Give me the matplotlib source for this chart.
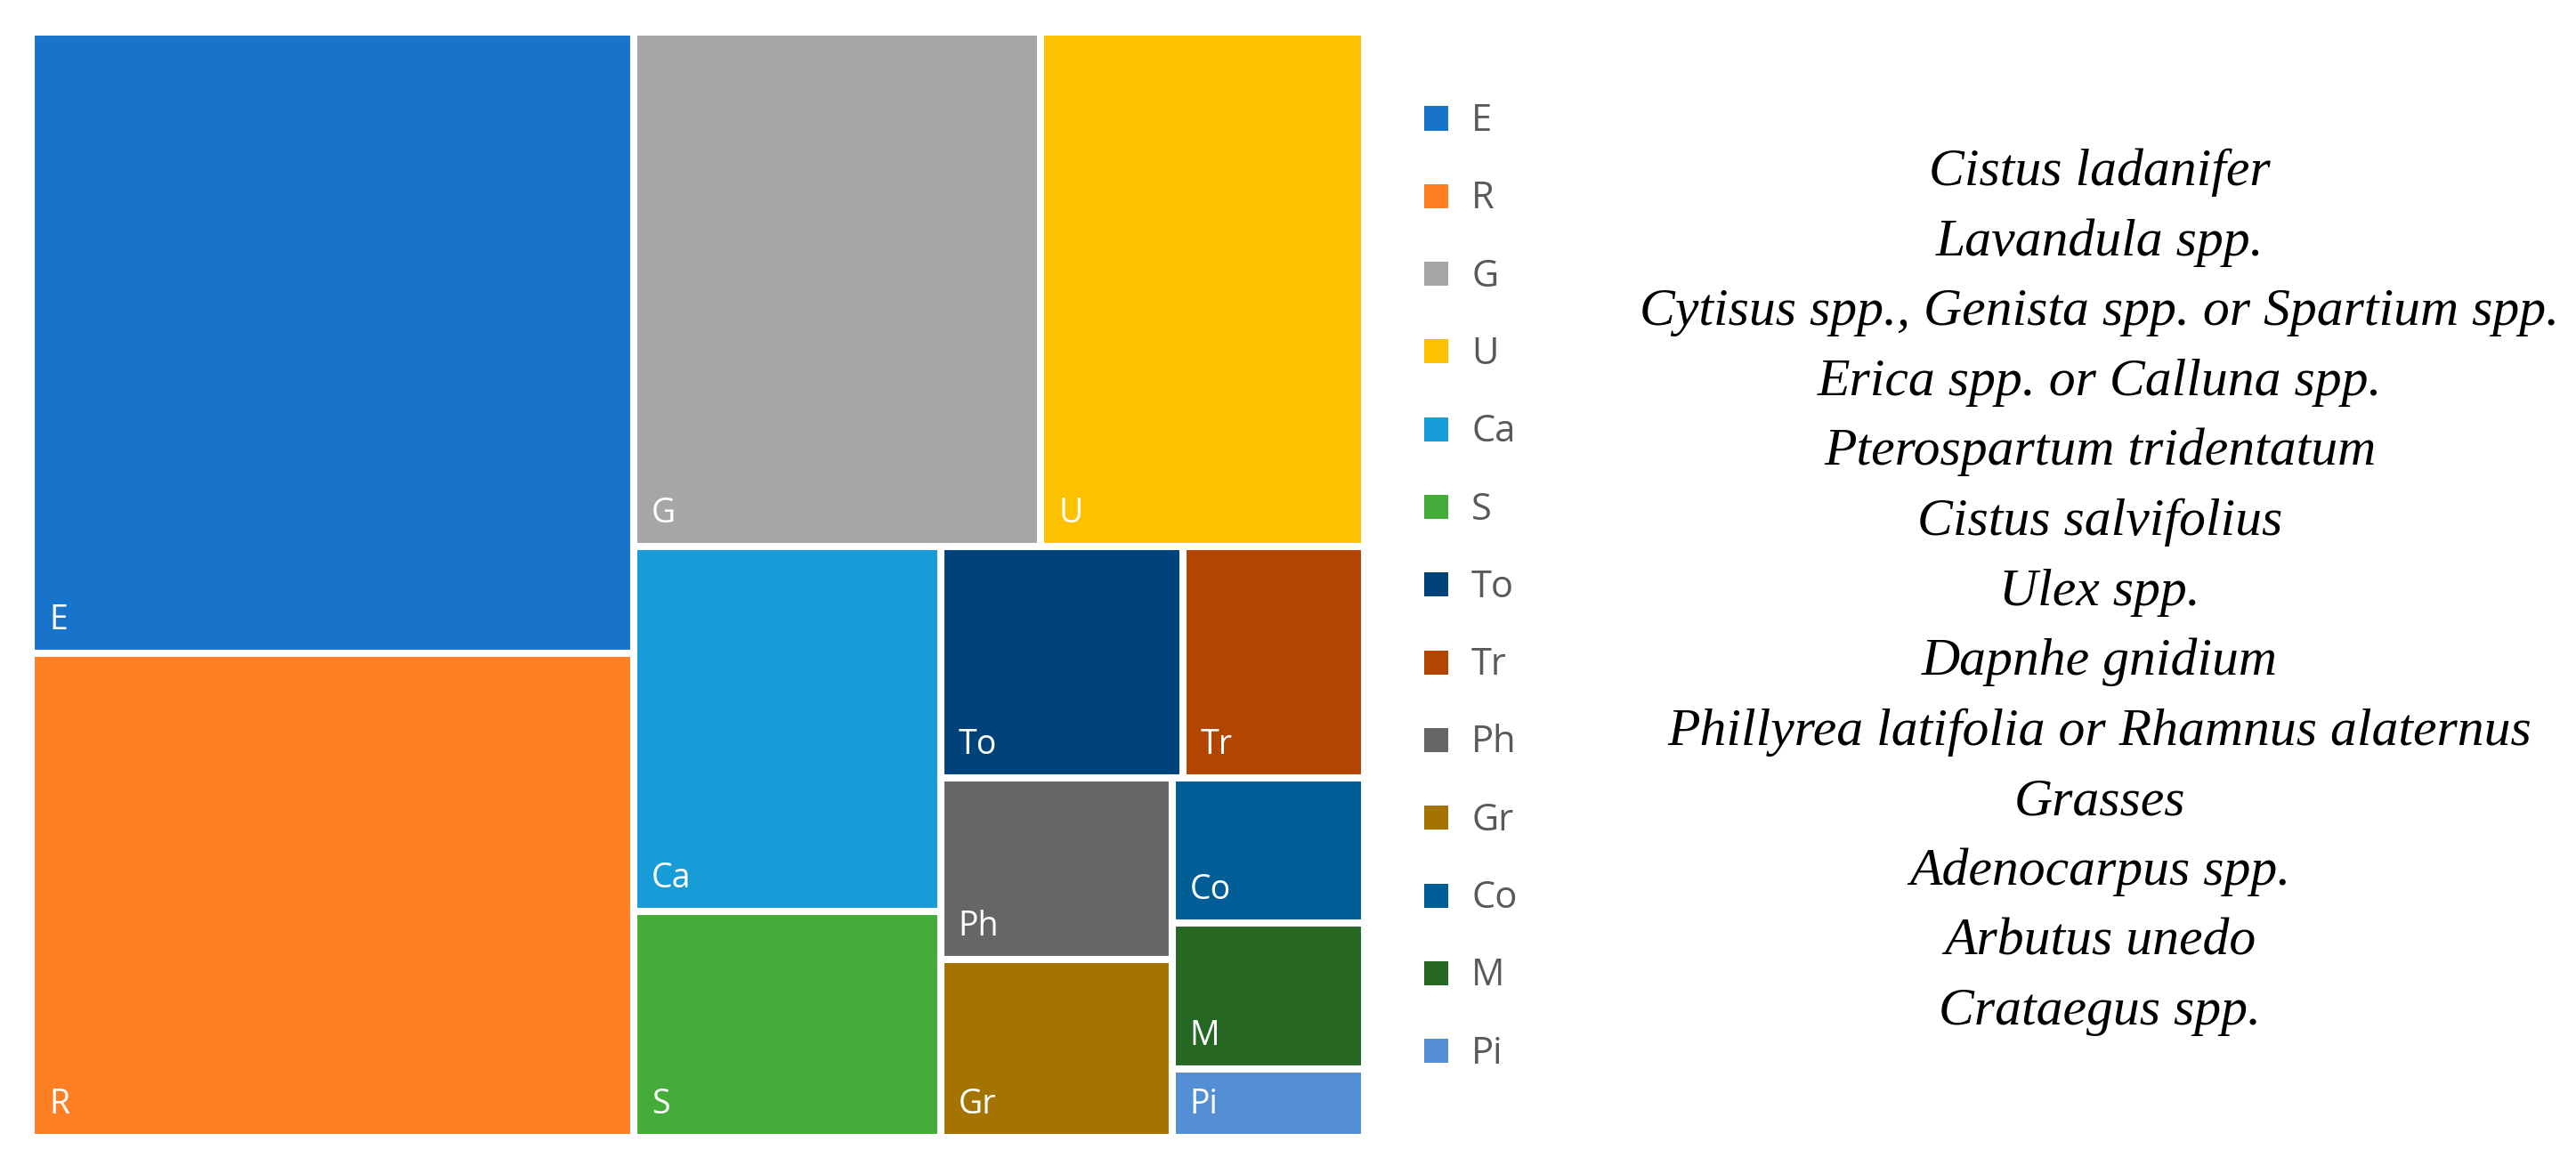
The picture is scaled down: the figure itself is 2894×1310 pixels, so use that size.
import matplotlib
matplotlib.use("Agg")
import matplotlib.pyplot as plt
from matplotlib.patches import Rectangle

# share of each shrub group (% of total)
codes = ["E", "R", "G", "U", "Ca", "S", "To", "Tr", "Ph", "Gr", "Co", "M", "Pi"]
shares = [25.4, 19.8, 14.2, 11.3, 7.6, 4.7, 3.8, 2.85, 2.85, 2.8, 1.9, 1.9, 0.9]
colors = ["#1874CA", "#FF7F24", "#A6A6A6", "#FFC000", "#189CD8", "#44AD3A", "#00427A",
          "#B44500", "#666666", "#A57400", "#005E96", "#256723", "#548FD6"]
species = ["Cistus ladanifer", "Lavandula spp.", "Cytisus spp., Genista spp. or Spartium spp.",
           "Erica spp. or Calluna spp.", "Pterospartum tridentatum", "Cistus salvifolius",
           "Ulex spp.", "Dapnhe gnidium", "Phillyrea latifolia or Rhamnus alaternus",
           "Grasses", "Adenocarpus spp.", "Arbutus unedo", "Crataegus spp."]

W_PX, H_PX = 2894, 1310


def worst(row, side):
    s = sum(row)
    return max(max(side * side * r / (s * s), s * s / (side * side * r)) for r in row)


def squarify(vals, x, y, w, h):
    # classic squarified layout, keeps the given order
    rects = []
    vals = list(vals)
    while vals:
        side = min(w, h)
        row = [vals[0]]
        i = 1
        while i < len(vals) and worst(row + [vals[i]], side) <= worst(row, side):
            row.append(vals[i])
            i += 1
        s = sum(row)
        if w >= h:                      # column on the left
            cw = s / h
            yy = y
            for r in row:
                rects.append((x, yy, cw, r / cw))
                yy += r / cw
            x += cw
            w -= cw
        else:                           # row on top
            rh = s / w
            xx = x
            for r in row:
                rects.append((xx, y, r / rh, rh))
                xx += r / rh
            y += rh
            h -= rh
        vals = vals[i:]
    return rects


fig = plt.figure(figsize=(W_PX / 100, H_PX / 100), dpi=100)

# treemap area in pixels (includes the half white gap on the outside)
x0, y0, x1, y1 = 35, 36, 1533, 1278
tw, th = x1 - x0, y1 - y0
ax = fig.add_axes([x0 / W_PX, 1 - y1 / H_PX, tw / W_PX, th / H_PX])
ax.set_xlim(0, tw)
ax.set_ylim(th, 0)
ax.axis("off")

total = sum(shares)
areas = [v / total * tw * th for v in shares]
for (rx, ry, rw, rh), c, code in zip(squarify(areas, 0, 0, tw, th), colors, codes):
    ax.add_patch(Rectangle((rx, ry), rw, rh, facecolor=c, edgecolor="white", linewidth=5.8))
    ax.text(rx + 20, ry + rh - 27, code, color="white", fontsize=27,
            family="Open Sans", va="baseline", ha="left")

# legend, drawn by hand to sit like the Excel one
for i, (code, c) in enumerate(zip(codes, colors)):
    yc = 133 + i * 87.3
    fig.patches.append(Rectangle((1600 / W_PX, 1 - (yc + 13.5) / H_PX), 27 / W_PX, 27 / H_PX,
                                 facecolor=c, edgecolor="none", transform=fig.transFigure))
    fig.text(1653 / W_PX, 1 - (yc + 3) / H_PX, code, color="#595959", fontsize=30,
             family="Open Sans", va="center", ha="left")

# species names on the right
for i, name in enumerate(species):
    fig.text(2359 / W_PX, 1 - (208 + i * 78.6) / H_PX, name, fontsize=43, style="italic",
             family="Liberation Serif", va="baseline", ha="center", color="black")

fig.savefig("out.png", dpi=100, facecolor="white")
